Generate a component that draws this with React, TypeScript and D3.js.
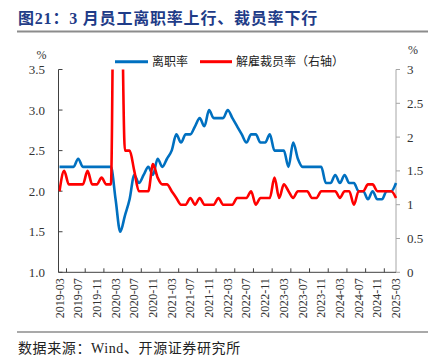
import React from "react";
import * as d3 from "d3";

const months: string[] = (() => {
  const out: string[] = [];
  for (let y = 2019; y <= 2025; y++) {
    for (let m = 1; m <= 12; m++) {
      if (y === 2019 && m < 3) continue;
      if (y === 2025 && m > 3) continue;
      out.push(`${y}-${String(m).padStart(2, "0")}`);
    }
  }
  return out;
})();

// 离职率 (left axis, %)
const quitsRate: number[] = [
  2.3, 2.3, 2.3, 2.3, 2.4, 2.3, 2.3, 2.3, 2.3, 2.3, 2.3, 2.3,
  1.9, 1.5, 1.7, 1.9, 2.2, 2.1, 2.2, 2.3, 2.2, 2.4, 2.3, 2.4,
  2.5, 2.7, 2.6, 2.7, 2.7, 2.8, 2.9, 2.8, 3.0, 2.9, 2.9, 2.9,
  3.0, 2.9, 2.8, 2.7, 2.6, 2.7, 2.7, 2.6, 2.6, 2.7, 2.5, 2.5,
  2.5, 2.3, 2.6, 2.4, 2.3, 2.3, 2.3, 2.3, 2.3, 2.1, 2.1, 2.2,
  2.1, 2.2, 2.1, 2.1, 2.0, 2.0, 1.9, 2.0, 1.9, 1.9, 2.0, 2.0,
  2.1,
];

// 解雇裁员率 (right axis, %)
const layoffRate: number[] = [
  1.2, 1.5, 1.3, 1.3, 1.3, 1.3, 1.5, 1.3, 1.3, 1.4, 1.3, 1.3,
  7.5, 5.9, 1.8, 1.8, 1.5, 1.2, 1.2, 1.2, 1.6, 1.4, 1.3, 1.3,
  1.2, 1.1, 1.0, 1.0, 1.1, 1.0, 1.1, 1.0, 1.0, 1.0, 1.1, 1.0,
  1.0, 1.0, 1.1, 1.1, 1.1, 1.2, 1.0, 1.1, 1.1, 1.1, 1.4, 1.1,
  1.3, 1.2, 1.1, 1.2, 1.2, 1.2, 1.1, 1.1, 1.2, 1.2, 1.2, 1.2,
  1.1, 1.2, 1.2, 1.0, 1.2, 1.2, 1.3, 1.3, 1.2, 1.2, 1.2, 1.2,
  1.1,
];

const leftTicks: number[] = [1.0, 1.5, 2.0, 2.5, 3.0, 3.5];
const rightTicks: number[] = [0, 0.5, 1, 1.5, 2, 2.5, 3];
const labelEvery = 4;

const title = "图21：3 月员工离职率上行、裁员率下行";
const legendNames = ["离职率", "解雇裁员率（右轴）"];
const source = "数据来源：Wind、开源证券研究所";

const FONT = "'Liberation Serif', 'Times New Roman', 'Noto Sans CJK SC', serif";
const BLUE = "#0070C0";
const RED = "#FF0000";

export default function App() {
  const W = 438, H = 363;
  const left = 58.5, right = 396, top = 69.5, bottom = 272.3;

  const x = d3.scaleLinear().domain([0, months.length - 1]).range([59.5, 396]);
  const yL = d3.scaleLinear().domain([1, 3.5]).range([bottom, top]);
  const yR = d3.scaleLinear().domain([0, 3]).range([bottom, top]);

  const lineL = d3.line<number>().x((_, i) => x(i)).y((d) => yL(d)).curve(d3.curveMonotoneX);
  const lineR = d3.line<number>().x((_, i) => x(i)).y((d) => yR(d)).curve(d3.curveMonotoneX);

  const labelIdx = months.map((_, i) => i).filter((i) => i % labelEvery === 0);
  const tickIdx = labelIdx.map((i) => i + 1.5).filter((v) => v < months.length - 1);

  return (
    <svg
      width={W}
      height={H}
      style={{ position: "absolute", left: 0, top: 0, background: "#fff" }}
      fontFamily={FONT}
    >
      <defs>
        <clipPath id="plotClip">
          <rect x={left} y={top} width={right - left + 3} height={bottom - top + 2} />
        </clipPath>
      </defs>
      <rect x={0} y={0} width={W} height={H} fill="#fff" />

      {/* Title */}
      <text x={18} y={18.5} dominantBaseline="central" fontSize={16} fontWeight="bold" fill="#1F3C88" letterSpacing={0.8}>
        {title}
      </text>
      <line x1={17} x2={428} y1={31.5} y2={31.5} stroke="#8c8c8c" strokeWidth={2} />

      {/* Unit labels */}
      <text x={41.5} y={55} textAnchor="middle" dominantBaseline="central" fontSize={12} fill="#333">%</text>
      <text x={413} y={50} textAnchor="middle" dominantBaseline="central" fontSize={12} fill="#333">%</text>

      {/* Legend */}
      <line x1={115} x2={148} y1={61.7} y2={61.7} stroke={BLUE} strokeWidth={3} />
      <text x={152} y={62} dominantBaseline="central" fontSize={12} fill="#222">{legendNames[0]}</text>
      <line x1={200} x2={232} y1={61.7} y2={61.7} stroke={RED} strokeWidth={3} />
      <text x={236} y={62} dominantBaseline="central" fontSize={12} fill="#222">{legendNames[1]}</text>

      {/* Left axis */}
      <line x1={left} x2={left} y1={top} y2={bottom} stroke="#404040" strokeWidth={1} />
      {leftTicks.map((t) => (
        <g key={"l" + t}>
          <line x1={left} x2={left + 4} y1={yL(t)} y2={yL(t)} stroke="#404040" />
          <text x={45} y={yL(t)} textAnchor="end" dominantBaseline="central" fontSize={13} fill="#333">
            {t.toFixed(1)}
          </text>
        </g>
      ))}

      {/* Right axis */}
      <line x1={right} x2={right} y1={top} y2={bottom} stroke="#a6a6a6" strokeWidth={1} />
      {rightTicks.map((t) => (
        <g key={"r" + t}>
          <line x1={right} x2={right + 4} y1={yR(t)} y2={yR(t)} stroke="#a6a6a6" />
          <text x={407} y={yR(t)} textAnchor="start" dominantBaseline="central" fontSize={13} fill="#333">
            {String(t)}
          </text>
        </g>
      ))}

      {/* Bottom axis */}
      <line x1={left} x2={right} y1={bottom} y2={bottom} stroke="#404040" strokeWidth={1} />
      {tickIdx.map((i) => (
        <line key={"t" + i} x1={x(i)} x2={x(i)} y1={bottom} y2={bottom - 4} stroke="#404040" />
      ))}
      {labelIdx.map((i) => (
        <text
          key={"x" + i}
          transform={`translate(${x(i)},${bottom + 6}) rotate(-90)`}
          textAnchor="end"
          dominantBaseline="central"
          fontSize={12}
          fill="#333"
        >
          {months[i]}
        </text>
      ))}

      {/* Series */}
      <g clipPath="url(#plotClip)">
        <path d={lineL(quitsRate) || ""} fill="none" stroke={BLUE} strokeWidth={2.6} strokeLinejoin="round" />
        <path d={lineR(layoffRate) || ""} fill="none" stroke={RED} strokeWidth={2.6} strokeLinejoin="round" />
      </g>

      {/* Footer */}
      <line x1={17} x2={428} y1={332} y2={332} stroke="#8c8c8c" strokeWidth={1.5} />
      <text x={18} y={348} dominantBaseline="central" fontSize={14} fill="#222" letterSpacing={0.6}>{source}</text>
    </svg>
  );
}
